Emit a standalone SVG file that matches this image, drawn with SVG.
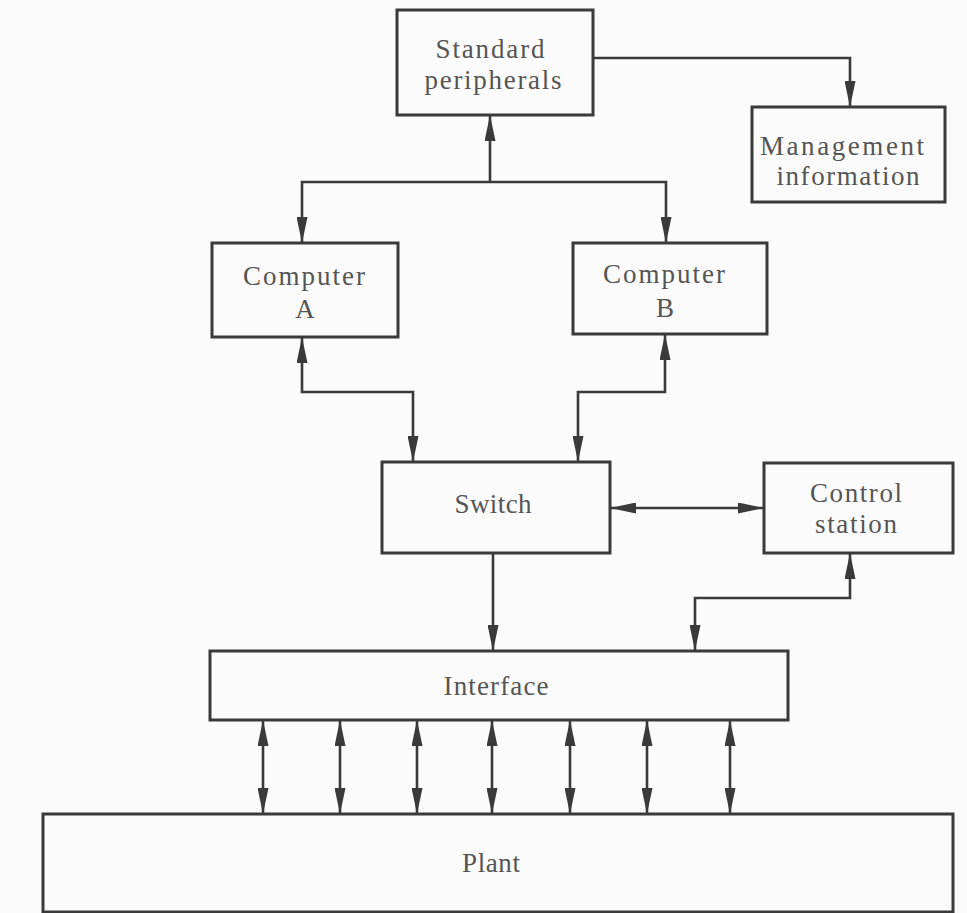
<svg xmlns="http://www.w3.org/2000/svg" width="967" height="913" viewBox="0 0 967 913">
  <style>
    .box { fill: none; stroke: #3a3a3a; stroke-width: 3; }
    .lbl { font-family: "Liberation Serif", "Times New Roman", serif; font-size: 27px; fill: #555555; text-anchor: middle; }
    .wire { fill: none; stroke: #3a3a3a; stroke-width: 2.6; }
    .one { marker-end: url(#head); }
    .two { marker-start: url(#head); marker-end: url(#head); }
  </style>
  <defs>
    <marker id="head" viewBox="0 0 26 11" refX="26" refY="5.5" markerWidth="26" markerHeight="11" markerUnits="userSpaceOnUse" orient="auto-start-reverse">
      <path d="M0,0 L26,5.5 L0,11 Z" fill="#3a3a3a"/>
    </marker>
  </defs>

  <rect width="967" height="913" fill="#fbfbfb"/>

  <g id="connectors">
    <path class="wire one" d="M593,58 H850 V107"/>
    <path class="wire one" d="M490,182 V115"/>
    <path class="wire two" d="M302,243 V182 H666 V243"/>
    <path class="wire two" d="M302,337 V392 H413 V462"/>
    <path class="wire two" d="M665,334 V392 H578 V462"/>
    <path class="wire two" d="M610,508 H764"/>
    <path class="wire one" d="M493,553 V651"/>
    <path class="wire two" d="M850,553 V598 H695 V651"/>
    <path class="wire two" d="M263,720 V814"/>
    <path class="wire two" d="M340,720 V814"/>
    <path class="wire two" d="M417,720 V814"/>
    <path class="wire two" d="M492,720 V814"/>
    <path class="wire two" d="M570,720 V814"/>
    <path class="wire two" d="M647,720 V814"/>
    <path class="wire two" d="M730,720 V814"/>
  </g>

  <g id="standard-peripherals">
    <rect class="box" x="397" y="10" width="196" height="105"/>
    <text class="lbl" x="490" y="58" textLength="109">Standard</text>
    <text class="lbl" x="493" y="89" textLength="137">peripherals</text>
  </g>

  <g id="management-information">
    <rect class="box" x="752" y="107" width="193" height="95"/>
    <text class="lbl" x="842" y="155" textLength="164">Management</text>
    <text class="lbl" x="848" y="185" textLength="143">information</text>
  </g>

  <g id="computer-a">
    <rect class="box" x="212" y="243" width="186" height="94"/>
    <text class="lbl" x="304" y="285" textLength="122">Computer</text>
    <text class="lbl" x="305" y="318">A</text>
  </g>

  <g id="computer-b">
    <rect class="box" x="573" y="243" width="194" height="91"/>
    <text class="lbl" x="664" y="283" textLength="122">Computer</text>
    <text class="lbl" x="665" y="317">B</text>
  </g>

  <g id="switch">
    <rect class="box" x="382" y="462" width="228" height="91"/>
    <text class="lbl" x="493" y="513" textLength="77">Switch</text>
  </g>

  <g id="control-station">
    <rect class="box" x="764" y="463" width="189" height="90"/>
    <text class="lbl" x="856" y="502" textLength="92">Control</text>
    <text class="lbl" x="856" y="533" textLength="82">station</text>
  </g>

  <g id="interface">
    <rect class="box" x="210" y="651" width="578" height="69"/>
    <text class="lbl" x="496" y="695" textLength="105">Interface</text>
  </g>

  <g id="plant">
    <rect class="box" x="43" y="814" width="910" height="98"/>
    <text class="lbl" x="491" y="872" textLength="58">Plant</text>
  </g>
</svg>
